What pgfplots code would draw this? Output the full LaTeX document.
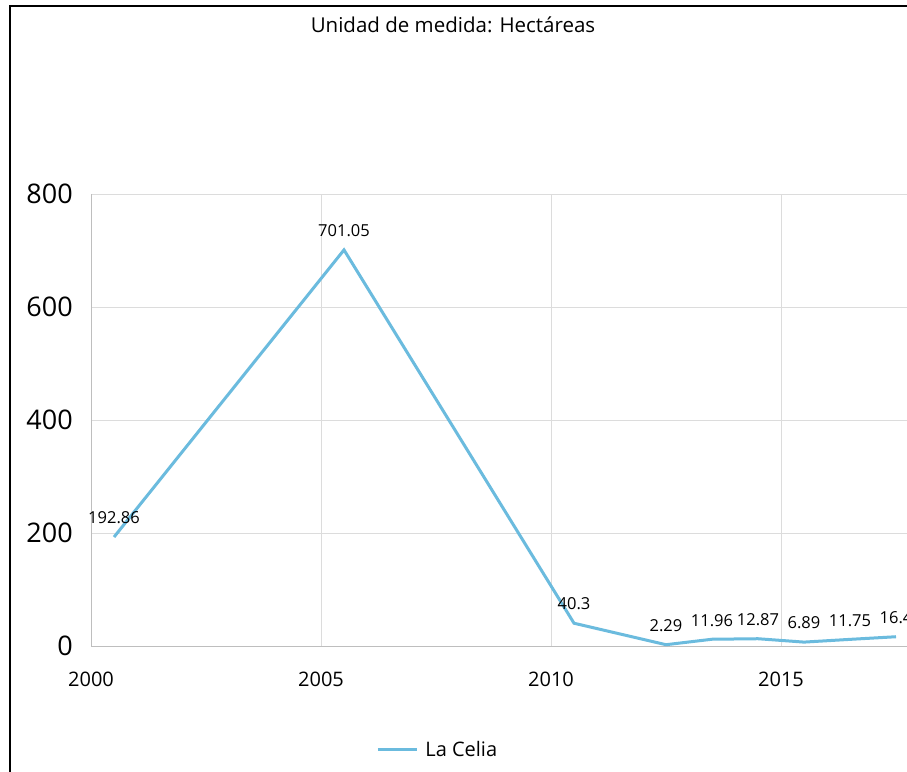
\documentclass[border=0pt]{standalone}
\usepackage{fontspec}
\setmainfont{Open Sans}
\usepackage{pgfplots}
\usepackage{pgfplotstable}
\pgfplotsset{compat=1.18}
\definecolor{linecol}{RGB}{107,187,222}
\definecolor{gridcol}{RGB}{220,220,220}
\definecolor{axcol}{RGB}{190,190,190}
\pgfplotstableread{
x y lab
2000.5 192.86 192.86
2005.5 701.05 701.05
2010.5 40.3 40.3
2012.5 2.29 2.29
2013.5 11.96 11.96
2014.5 12.87 12.87
2015.5 6.89 6.89
2016.5 11.75 11.75
2017.5 16.4 16.4
}\datatable
\begin{document}
\begin{tikzpicture}[x=1pt,y=1pt]
\useasboundingbox (0,0) rectangle (907,771);
\fill[white] (0,0) rectangle (907,771);
\draw[black, line width=2pt] (10,-2) -- (10,765) -- (909,765);
\node[font=\fontsize{20.5}{24}\selectfont] at (453,746) {Unidad de medida: Hectáreas};
\begin{axis}[
  at={(91pt,125pt)}, anchor=south west,
  scale only axis, width=816pt, height=452pt,
  xmin=2000, xmax=2017.739, ymin=0, ymax=800,
  axis x line*=bottom, axis y line*=left,
  axis line style={draw=axcol, line width=1pt},
  xtick={2000,2005,2010,2015}, ytick={0,200,400,600,800},
  major tick length=0pt,
  grid=major, major grid style={draw=gridcol, line width=1pt},
  /pgf/number format/assume math mode=true,
  /pgf/number format/1000 sep={},
  xticklabel style={font=\fontsize{20}{22}\selectfont, inner sep=0pt, yshift=-26pt},
  yticklabel style={font=\fontsize{27}{30}\selectfont, inner sep=0pt, xshift=-18pt},
  legend style={at={(0.425,-0.230)}, anchor=center, draw=none, fill=none,
    font=\fontsize{20}{24}\selectfont},
  legend image code/.code={\draw[#1] (0pt,0pt) -- (39pt,0pt); \path (44pt,0pt);},
  nodes near coords,
  point meta=explicit symbolic,
  every node near coord/.append style={font=\fontsize{16.5}{19}\selectfont, text=black, anchor=south, inner sep=1pt, yshift=10.5pt},
]
\addplot[linecol, line width=3pt, no marks] table[x=x, y=y, meta=lab] {\datatable};
\addlegendentry{La Celia}
\end{axis}
\end{tikzpicture}
\end{document}
